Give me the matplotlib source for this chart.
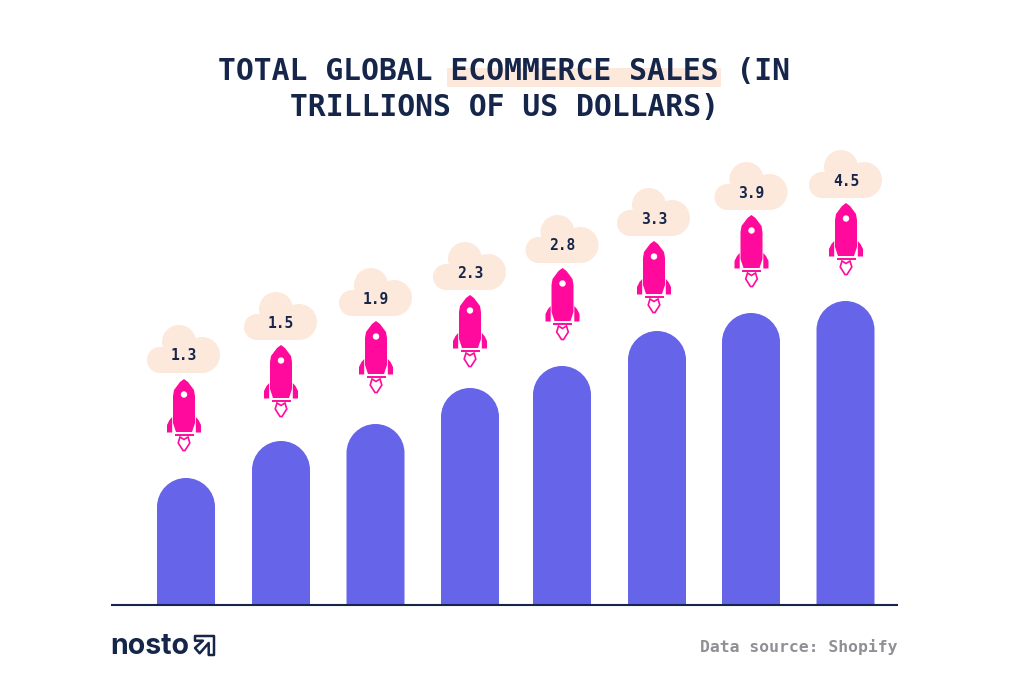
import matplotlib
matplotlib.use('Agg')
import matplotlib.pyplot as plt
from matplotlib.patches import Circle, PathPatch, Rectangle, Polygon
from matplotlib.path import Path

labels = ['1.3', '1.5', '1.9', '2.3', '2.8', '3.3', '3.9', '4.5']
bar_x = [186, 281, 375.5, 470, 562, 657, 751, 845.5]
bar_heights = [127, 164, 181, 217, 239, 274, 292, 304]
rocket_x = [184, 281, 376, 470, 562.5, 654, 751.5, 846]
rocket_tops = [226, 260, 284, 310, 337, 364, 390, 402]
cloud_y = [250, 283, 307, 333, 360, 387, 413, 425]

NAVY = '#16264a'
PURPLE = '#6664e8'
PINK = '#ff0a9c'
PEACH = '#fde8dc'
GREY = '#8f8f96'
MONO = 'DejaVu Sans Mono'

fig = plt.figure(figsize=(10.24, 6.9), dpi=100)
ax = fig.add_axes([0, 0, 1, 1])
# units are pixels, y measured up from the baseline
ax.set_xlim(0, 1024)
ax.set_ylim(-85, 605)
ax.axis('off')


def rounded_bar(x, h, w=58):
    r = w / 2
    verts = [(x - r, 0), (x - r, h - r), (x - r, h - r + r * .552), (x - r * .552, h), (x, h),
             (x + r * .552, h), (x + r, h - r + r * .552), (x + r, h - r), (x + r, 0), (x - r, 0)]
    codes = [Path.MOVETO, Path.LINETO, Path.CURVE4, Path.CURVE4, Path.CURVE4,
             Path.CURVE4, Path.CURVE4, Path.CURVE4, Path.LINETO, Path.CLOSEPOLY]
    ax.add_patch(PathPatch(Path(verts, codes), fc=PURPLE, ec='none', zorder=2))


def cloud(x, y, txt):
    ax.add_patch(Rectangle((x - 24, y - 18), 42, 26, fc=PEACH, ec='none', zorder=2))
    ax.add_patch(Circle((x - 24, y - 5), 13, fc=PEACH, ec='none', zorder=2))
    ax.add_patch(Circle((x + 18, y), 18, fc=PEACH, ec='none', zorder=2))
    ax.add_patch(Circle((x - 5, y + 13), 17, fc=PEACH, ec='none', zorder=2))
    ax.text(x, y - 1, txt, family=MONO, weight='bold', fontsize=10.5, color=NAVY,
            ha='center', va='center', zorder=3)


def rocket(x, top):
    # x is the centre line, top the nose tip
    right = [(4, 3), (10, 11), (11, 17), (11, 44), (8, 53)]
    body = [(x, top)] + [(x + a, top - b) for a, b in right] + [(x - a, top - b) for a, b in right[::-1]]
    ax.add_patch(Polygon(body, fc=PINK, ec='none', zorder=3))
    ax.add_patch(Circle((x, top - 15.5), 3.2, fc='white', ec='none', zorder=4))
    for s in (-1, 1):
        fin = [(x + s * 11.8, top - 38), (x + s * 14.5, top - 41), (x + s * 17, top - 46),
               (x + s * 17, top - 53.5), (x + s * 11.8, top - 53.5)]
        ax.add_patch(Polygon(fin, fc=PINK, ec='none', zorder=3))
    ax.plot([x - 8.5, x + 8.5], [top - 55.5, top - 55.5], color=PINK, lw=1.4, zorder=3)
    flame = [(x - 4, top - 58), (x - 5.8, top - 64), (x - 1, top - 71.5), (x + 1, top - 71.5),
             (x + 5.8, top - 64), (x + 4, top - 58), (x, top - 60.5)]
    ax.add_patch(Polygon(flame, fc='none', ec=PINK, lw=1.2, zorder=3))


for x, h in zip(bar_x, bar_heights):
    rounded_bar(x, h)
for x, top in zip(rocket_x, rocket_tops):
    rocket(x, top)
for x, y, t in zip(rocket_x, cloud_y, labels):
    cloud(x, y, t)

ax.plot([111, 898], [0, 0], color=NAVY, lw=1.5, zorder=4, solid_capstyle='butt')

# title, with the highlight behind the second half of the first line
ax.add_patch(Rectangle((447, 518), 274, 19, fc=PEACH, ec='none', zorder=1))
ax.text(504.5, 533.5, 'TOTAL GLOBAL ECOMMERCE SALES (IN', family=MONO, weight='bold', fontsize=21.4,
        color=NAVY, ha='center', va='center', zorder=2)
ax.text(504.5, 498, 'TRILLIONS OF US DOLLARS)', family=MONO, weight='bold', fontsize=21.4,
        color=NAVY, ha='center', va='center', zorder=2)

# footer
ax.text(898, -42, 'Data source: Shopify', family=MONO, weight='bold', fontsize=11.8, color=GREY,
        ha='right', va='center')
ax.text(110, -41, 'nosto', family='Inter', weight='bold', fontsize=20.5, color=NAVY, ha='left', va='center')

# logo mark
logo = [(195, -31), (214, -31), (214, -50), (208.7, -50), (208.7, -38), (199.7, -48.3),
        (195, -43), (203, -35.7), (195, -35.7)]
ax.add_patch(Polygon(logo, fc='none', ec=NAVY, lw=1.8, joinstyle='round'))

fig.savefig('out.png', dpi=100)
